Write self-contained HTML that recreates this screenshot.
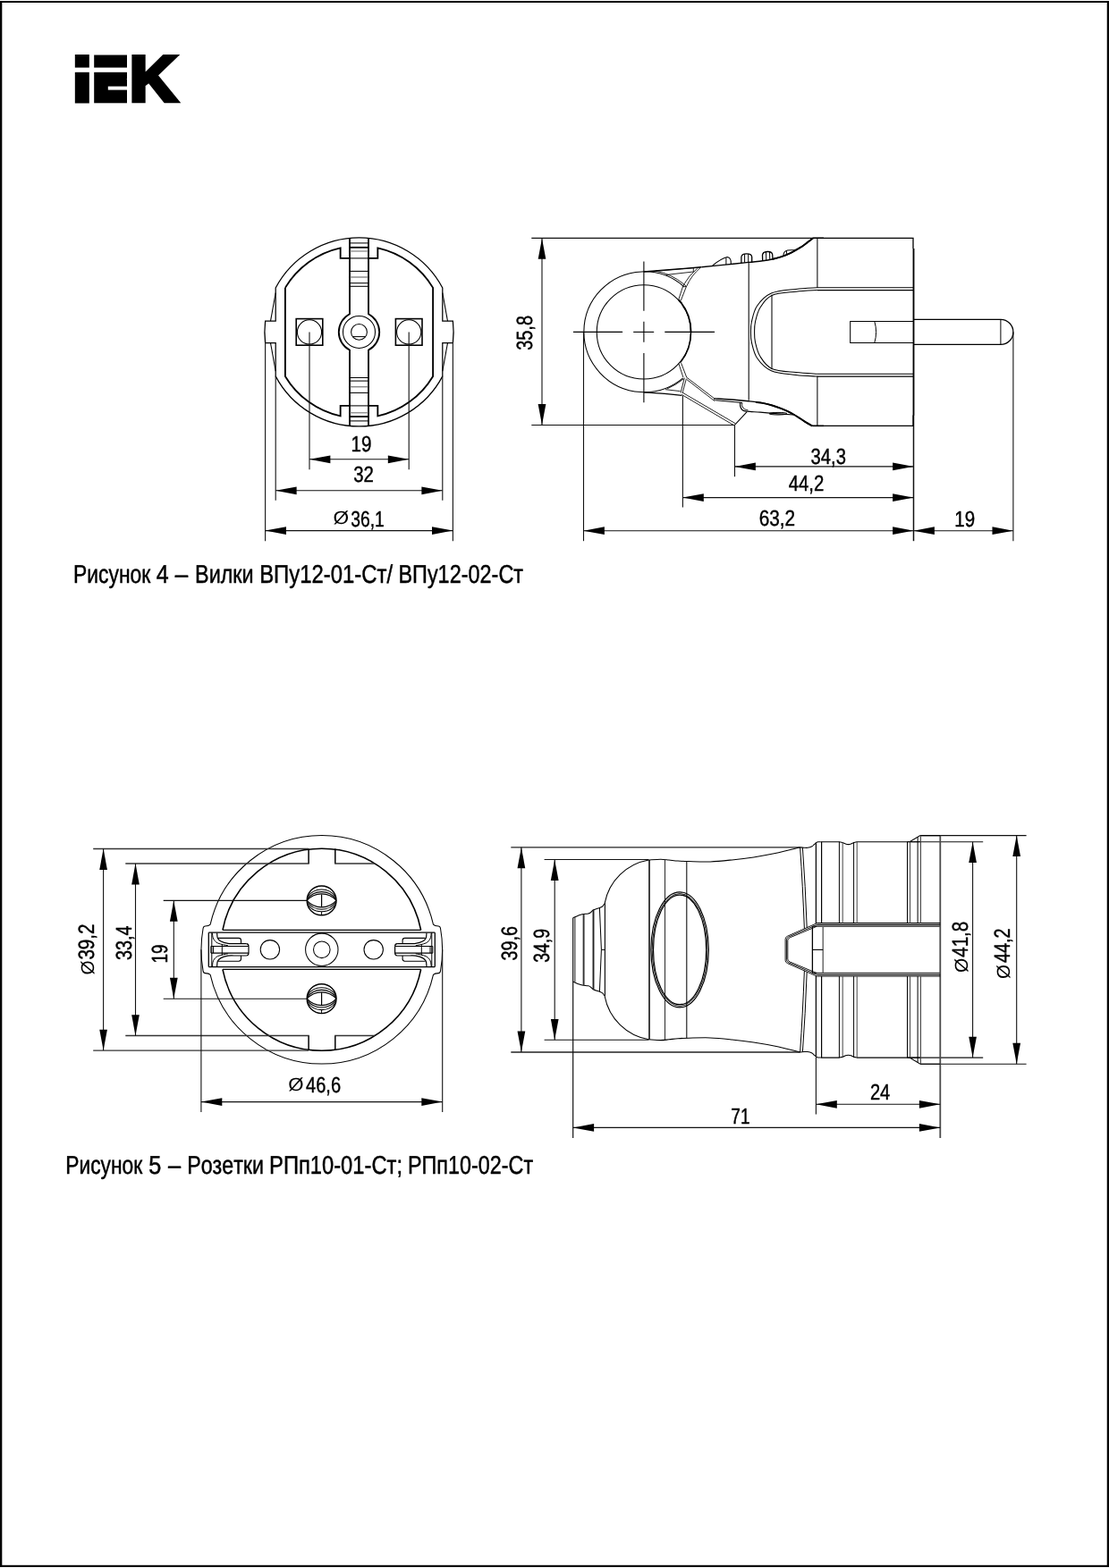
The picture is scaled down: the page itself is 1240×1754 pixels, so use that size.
<!DOCTYPE html>
<html lang="ru">
<head>
<meta charset="utf-8">
<title>IEK</title>
<style>
html,body{margin:0;padding:0;background:#fff;}
body{width:1240px;height:1754px;overflow:hidden;}
svg{display:block;will-change:transform;}
text{font-family:"Liberation Sans",sans-serif;fill:#000;text-rendering:geometricPrecision;font-kerning:none;}
</style>
</head>
<body>
<svg width="1240" height="1754" viewBox="0 0 1240 1754">
<rect x="0" y="0" width="1240" height="1754" fill="#fff"/>
<rect x="0" y="1" width="1240" height="2" fill="#000"/>
<rect x="0" y="1" width="2.3" height="1751.9" fill="#000"/>
<rect x="1237.75" y="1" width="2.25" height="1752" fill="#000"/>
<rect x="0" y="1750.8" width="1240" height="2.15" fill="#000"/>
<text font-weight="bold" stroke="#000" stroke-linejoin="miter"><tspan x="79.82" y="113.81" font-size="74.725" stroke-width="2.989" stroke-miterlimit="10" textLength="24.157" lengthAdjust="spacingAndGlyphs">I</tspan><tspan x="111.19" y="104.9" font-size="47.387" stroke-width="21.798" stroke-miterlimit="10" textLength="24.890" lengthAdjust="spacingAndGlyphs">E</tspan><tspan x="144.78" y="113.02" font-size="72.437" stroke-width="4.564" stroke-miterlimit="4" textLength="53.376" lengthAdjust="spacingAndGlyphs">K</tspan></text>
<rect x="82" y="75.6" width="61.5" height="5.2" fill="#fff"/>
<rect x="120.8" y="96.6" width="22.7" height="4.0" fill="#fff"/>
<rect x="142.0" y="59" width="3.4" height="58" fill="#fff"/>
<rect x="104" y="115.3" width="40" height="2" fill="#fff"/>
<text y="652.3" font-size="28.8" stroke="#000" stroke-width="0.5" stroke-linejoin="round"><tspan x="82.02" textLength="86.26" lengthAdjust="spacingAndGlyphs">Рисунок</tspan> <tspan x="174.63" textLength="13.91" lengthAdjust="spacingAndGlyphs">4</tspan> <tspan x="195.8" textLength="14.41" lengthAdjust="spacingAndGlyphs">–</tspan> <tspan x="218.08" textLength="65.54" lengthAdjust="spacingAndGlyphs">Вилки</tspan> <tspan x="290.14" textLength="149.06" lengthAdjust="spacingAndGlyphs">ВПу12-01-Ст/</tspan> <tspan x="445.38" textLength="139.73" lengthAdjust="spacingAndGlyphs">ВПу12-02-Ст</tspan></text>
<text y="1313.2" font-size="28.8" stroke="#000" stroke-width="0.5" stroke-linejoin="round"><tspan x="73.23" textLength="86.06" lengthAdjust="spacingAndGlyphs">Рисунок</tspan> <tspan x="166.19" textLength="14.08" lengthAdjust="spacingAndGlyphs">5</tspan> <tspan x="187.9" textLength="14.11" lengthAdjust="spacingAndGlyphs">–</tspan> <tspan x="209.19" textLength="85.82" lengthAdjust="spacingAndGlyphs">Розетки</tspan> <tspan x="301.05" textLength="148.98" lengthAdjust="spacingAndGlyphs">РПп10-01-Ст;</tspan> <tspan x="455.98" textLength="140.12" lengthAdjust="spacingAndGlyphs">РПп10-02-Ст</tspan></text>
<path d="M308.2 321.94 A105.6 105.6 0 0 1 494.8 321.94 L494.8 359.2 L506.39 359.2 A105.6 105.6 0 0 1 506.39 383.6 L494.8 383.6 L494.8 420.86 A105.6 105.6 0 0 1 308.2 420.86 L308.2 383.6 L296.61 383.6 A105.6 105.6 0 0 1 296.61 359.2 L308.2 359.2 Z" fill="none" stroke="#000" stroke-width="1.25" />
<line x1="308.2" y1="327.6" x2="302.5" y2="359.2" stroke="#000" stroke-width="1.05" />
<line x1="308.2" y1="415.2" x2="302.5" y2="383.6" stroke="#000" stroke-width="1.05" />
<line x1="494.8" y1="327.6" x2="500.5" y2="359.2" stroke="#000" stroke-width="1.05" />
<line x1="494.8" y1="415.2" x2="500.5" y2="383.6" stroke="#000" stroke-width="1.05" />
<path d="M318.9 321.89 A96.3 96.3 0 0 1 380.65 277.38 L380.65 288.9 L391 288.9 M412 288.9 L422.35 288.9 L422.35 277.38 A96.3 96.3 0 0 1 484.1 321.89 L484.1 420.91 A96.3 96.3 0 0 1 422.35 465.42 L422.35 453.9 L412 453.9 M391 453.9 L380.65 453.9 L380.65 465.42 A96.3 96.3 0 0 1 318.9 420.91 L318.9 321.89" fill="none" stroke="#000" stroke-width="1.85" stroke-linejoin="miter"/>
<path d="M391 266.32 L391 351.27 A22.7 22.7 0 0 0 391 391.53 L391 476.48" fill="none" stroke="#000" stroke-width="1.85" stroke-linejoin="round"/>
<path d="M412 266.32 L412 351.27 A22.7 22.7 0 0 1 412 391.53 L412 476.48" fill="none" stroke="#000" stroke-width="1.85" stroke-linejoin="round"/>
<circle cx="401.5" cy="371.4" r="18" fill="none" stroke="#000" stroke-width="1.05"/>
<circle cx="401.5" cy="371.4" r="8.9" fill="none" stroke="#000" stroke-width="1.05"/>
<line x1="394.3" y1="376.6" x2="408.7" y2="376.6" stroke="#000" stroke-width="1.05" />
<line x1="391" y1="271.9" x2="412" y2="271.9" stroke="#000" stroke-width="1.05" />
<line x1="391" y1="470.9" x2="412" y2="470.9" stroke="#000" stroke-width="1.05" />
<line x1="391" y1="276.8" x2="412" y2="276.8" stroke="#000" stroke-width="1.85" />
<line x1="391" y1="466" x2="412" y2="466" stroke="#000" stroke-width="1.85" />
<line x1="391" y1="281" x2="412" y2="281" stroke="#666" stroke-width="1.0" />
<line x1="391" y1="461.8" x2="412" y2="461.8" stroke="#666" stroke-width="1.0" />
<line x1="391" y1="288.9" x2="412" y2="288.9" stroke="#000" stroke-width="1.05" />
<line x1="391" y1="453.9" x2="412" y2="453.9" stroke="#000" stroke-width="1.05" />
<line x1="391" y1="303.4" x2="412" y2="303.4" stroke="#000" stroke-width="1.05" />
<line x1="391" y1="439.4" x2="412" y2="439.4" stroke="#000" stroke-width="1.05" />
<line x1="391" y1="310" x2="412" y2="310" stroke="#555" stroke-width="1.0" />
<line x1="391" y1="432.8" x2="412" y2="432.8" stroke="#555" stroke-width="1.0" />
<line x1="391" y1="316.7" x2="412" y2="316.7" stroke="#000" stroke-width="1.05" />
<line x1="391" y1="426.1" x2="412" y2="426.1" stroke="#000" stroke-width="1.05" />
<line x1="391" y1="320.3" x2="412" y2="320.3" stroke="#000" stroke-width="1.05" />
<line x1="391" y1="422.5" x2="412" y2="422.5" stroke="#000" stroke-width="1.05" />
<rect x="331.2" y="356.6" width="29.6" height="29.6" fill="none" stroke="#000" stroke-width="1.6"/>
<circle cx="346" cy="371.4" r="13.6" fill="none" stroke="#000" stroke-width="1.05"/>
<line x1="346" y1="371.4" x2="346" y2="525.3" stroke="#111" stroke-width="1.1" />
<rect x="442.4" y="356.6" width="29.6" height="29.6" fill="none" stroke="#000" stroke-width="1.6"/>
<circle cx="457.2" cy="371.4" r="13.6" fill="none" stroke="#000" stroke-width="1.05"/>
<line x1="457.2" y1="371.4" x2="457.2" y2="525.3" stroke="#111" stroke-width="1.1" />
<line x1="308.2" y1="420.86" x2="308.2" y2="559.7" stroke="#111" stroke-width="1.1" />
<line x1="494.8" y1="420.86" x2="494.8" y2="559.7" stroke="#111" stroke-width="1.1" />
<line x1="296.61" y1="383.6" x2="296.61" y2="605.2" stroke="#111" stroke-width="1.1" />
<line x1="506.39" y1="383.6" x2="506.39" y2="605.2" stroke="#111" stroke-width="1.1" />
<line x1="346" y1="513.8" x2="457.2" y2="513.8" stroke="#111" stroke-width="1.1" />
<polygon points="346,513.8 369.4,509.45 369.4,518.15" fill="#000"/>
<polygon points="457.2,513.8 433.8,518.15 433.8,509.45" fill="#000"/>
<line x1="308.2" y1="548.8" x2="494.8" y2="548.8" stroke="#111" stroke-width="1.1" />
<polygon points="308.2,548.8 331.6,544.45 331.6,553.15" fill="#000"/>
<polygon points="494.8,548.8 471.4,553.15 471.4,544.45" fill="#000"/>
<line x1="296.61" y1="593.6" x2="506.39" y2="593.6" stroke="#111" stroke-width="1.1" />
<polygon points="296.61,593.6 320.01,589.25 320.01,597.95" fill="#000"/>
<polygon points="506.39,593.6 482.99,597.95 482.99,589.25" fill="#000"/>
<text x="392.43" y="504.8" font-size="24.9" textLength="22.95" lengthAdjust="spacingAndGlyphs" stroke="#000" stroke-width="0.45">19</text>
<text x="395.22" y="539" font-size="24.9" textLength="22.7" lengthAdjust="spacingAndGlyphs" stroke="#000" stroke-width="0.45">32</text>
<text font-size="24.9" stroke="#000" stroke-width="0.45"><tspan x="372.41" y="586.4" font-size="20.6" textLength="17.65" lengthAdjust="spacingAndGlyphs" stroke-width="0">Ø</tspan><tspan x="392.26" y="588.7" textLength="37.58" lengthAdjust="spacingAndGlyphs">36,1</tspan></text>
<path d="M764.5 320.4 A67.4 67.4 0 1 0 763.7 422.8" fill="none" stroke="#000" stroke-width="1.05" />
<circle cx="719.9" cy="371.4" r="52.6" fill="none" stroke="#000" stroke-width="1.05"/>
<line x1="641" y1="371.4" x2="696.1" y2="371.4" stroke="#000" stroke-width="1.1" />
<line x1="708.2" y1="371.4" x2="731.2" y2="371.4" stroke="#000" stroke-width="1.1" />
<line x1="743.3" y1="371.4" x2="799" y2="371.4" stroke="#000" stroke-width="1.1" />
<line x1="719.9" y1="292.4" x2="719.9" y2="347.7" stroke="#000" stroke-width="1.1" />
<line x1="719.9" y1="359.8" x2="719.9" y2="382.8" stroke="#000" stroke-width="1.1" />
<line x1="719.9" y1="394.9" x2="719.9" y2="450.2" stroke="#000" stroke-width="1.1" />
<line x1="594.3" y1="266.4" x2="908.6" y2="266.4" stroke="#111" stroke-width="1.1" />
<line x1="594.3" y1="475.5" x2="821.5" y2="475.5" stroke="#111" stroke-width="1.1" />
<line x1="606" y1="266.4" x2="606" y2="475.5" stroke="#111" stroke-width="1.1" />
<polygon points="606,266.4 610.35,289.8 601.65,289.8" fill="#000"/>
<polygon points="606,475.5 601.65,452.1 610.35,452.1" fill="#000"/>
<line x1="652.5" y1="371.4" x2="652.5" y2="605.2" stroke="#111" stroke-width="1.1" />
<line x1="763.4" y1="442.4" x2="763.4" y2="567.6" stroke="#111" stroke-width="1.1" />
<line x1="821.5" y1="475.5" x2="821.5" y2="533.2" stroke="#111" stroke-width="1.1" />
<line x1="1021.5" y1="464" x2="1021.5" y2="605.2" stroke="#111" stroke-width="1.5" />
<line x1="1132.9" y1="371.4" x2="1132.9" y2="605.2" stroke="#111" stroke-width="1.1" />
<line x1="821.5" y1="521.9" x2="1021.5" y2="521.9" stroke="#111" stroke-width="1.1" />
<polygon points="821.5,521.9 844.9,517.55 844.9,526.25" fill="#000"/>
<polygon points="1021.5,521.9 998.1,526.25 998.1,517.55" fill="#000"/>
<line x1="763.4" y1="556.6" x2="1021.5" y2="556.6" stroke="#111" stroke-width="1.1" />
<polygon points="763.4,556.6 786.8,552.25 786.8,560.95" fill="#000"/>
<polygon points="1021.5,556.6 998.1,560.95 998.1,552.25" fill="#000"/>
<line x1="652.5" y1="593.7" x2="1021.5" y2="593.7" stroke="#111" stroke-width="1.1" />
<polygon points="652.5,593.7 675.9,589.35 675.9,598.05" fill="#000"/>
<polygon points="1021.5,593.7 998.1,598.05 998.1,589.35" fill="#000"/>
<line x1="1021.5" y1="593.7" x2="1132.9" y2="593.7" stroke="#111" stroke-width="1.1" />
<polygon points="1021.5,593.7 1044.9,589.35 1044.9,598.05" fill="#000"/>
<polygon points="1132.9,593.7 1109.5,598.05 1109.5,589.35" fill="#000"/>
<text x="906.53" y="518.8" font-size="24.9" textLength="39.36" lengthAdjust="spacingAndGlyphs" stroke="#000" stroke-width="0.45">34,3</text>
<text x="881.63" y="548.6" font-size="24.9" textLength="39.69" lengthAdjust="spacingAndGlyphs" stroke="#000" stroke-width="0.45">44,2</text>
<text x="848.64" y="588.3" font-size="24.9" textLength="40.5" lengthAdjust="spacingAndGlyphs" stroke="#000" stroke-width="0.45">63,2</text>
<text x="1067.34" y="588.9" font-size="24.9" textLength="22.84" lengthAdjust="spacingAndGlyphs" stroke="#000" stroke-width="0.45">19</text>
<text transform="translate(595.2 391) rotate(-90)" x="-0.76" y="0" font-size="24.9" textLength="38.72" lengthAdjust="spacingAndGlyphs" stroke="#000" stroke-width="0.45">35,8</text>
<path d="M908.6 266.4 L1021 266.4 L1021 278" fill="none" stroke="#000" stroke-width="1.3" />
<line x1="908.6" y1="266.3" x2="921" y2="266.3" stroke="#000" stroke-width="1.5" />
<line x1="1021.5" y1="278" x2="1021.5" y2="464.5" stroke="#000" stroke-width="1.85" />
<path d="M1021 464.5 L1021 476.3 L908.6 476.3" fill="none" stroke="#000" stroke-width="1.3" />
<line x1="908.4" y1="476.4" x2="921" y2="476.4" stroke="#000" stroke-width="1.5" />
<line x1="913.9" y1="266.4" x2="913.9" y2="322" stroke="#000" stroke-width="1.05" />
<line x1="913.9" y1="420.8" x2="913.9" y2="476.3" stroke="#000" stroke-width="1.05" />
<line x1="913.9" y1="321.7" x2="1021" y2="321.7" stroke="#000" stroke-width="1.05" />
<line x1="913.9" y1="324.6" x2="1021" y2="324.6" stroke="#000" stroke-width="1.05" />
<line x1="913.9" y1="418.2" x2="1021" y2="418.2" stroke="#000" stroke-width="1.05" />
<line x1="913.9" y1="421.1" x2="1021" y2="421.1" stroke="#000" stroke-width="1.05" />
<path d="M913.9 321.7 C909.92 321.98 898.58 322.33 890 323.4 C881.42 324.47 869.65 324.95 862.4 328.1 C855.15 331.25 850.17 336.98 846.5 342.3 C842.83 347.62 841.57 355.15 840.4 360 C839.23 364.85 839.5 367.6 839.5 371.4 C839.5 375.2 839.23 377.95 840.4 382.8 C841.57 387.65 842.83 395.18 846.5 400.5 C850.17 405.82 855.15 411.55 862.4 414.7 C869.65 417.85 881.42 418.33 890 419.4 C898.58 420.47 909.92 420.82 913.9 421.1" fill="none" stroke="#000" stroke-width="1.05" />
<path d="M913.9 324.6 C909.92 324.87 898.48 325.23 890 326.2 C881.52 327.17 869.67 327.43 863 330.4 C856.33 333.37 853.08 339.07 850 344 C846.92 348.93 845.57 355.43 844.5 360 C843.43 364.57 843.6 367.6 843.6 371.4 C843.6 375.2 843.43 378.23 844.5 382.8 C845.57 387.37 846.92 393.87 850 398.8 C853.08 403.73 856.33 409.43 863 412.4 C869.67 415.37 881.52 415.63 890 416.6 C898.48 417.57 909.92 417.93 913.9 418.2" fill="none" stroke="#000" stroke-width="1.05" />
<line x1="863" y1="329.8" x2="863" y2="413" stroke="#000" stroke-width="1.05" />
<line x1="837.2" y1="293.6" x2="837.2" y2="447.8" stroke="#000" stroke-width="1.05" />
<path d="M1021 359.4 L950.7 359.4 L950.7 383.5 L1021 383.5" fill="none" stroke="#000" stroke-width="1.05" />
<path d="M977.8 359.4 A42 42 0 0 1 977.8 383.5" fill="none" stroke="#000" stroke-width="1.0" />
<path d="M1021.5 357.4 L1118.9 357.4 A14 14 0 0 1 1118.9 385.4 L1021.5 385.4" fill="none" stroke="#000" stroke-width="1.3" />
<line x1="1118.9" y1="357.4" x2="1118.9" y2="385.4" stroke="#000" stroke-width="1.0" />
<line x1="719.9" y1="304" x2="784.4" y2="298.7" stroke="#000" stroke-width="1.3" />
<path d="M784.4 298.7 C788.83 298.27 802.2 296.98 811 296.1 C819.8 295.22 830.22 294.12 837.2 293.4 C844.18 292.68 848.53 292.37 852.9 291.8 C857.27 291.23 859.9 290.78 863.4 290 C866.9 289.22 870.42 288.3 873.9 287.1 C877.38 285.9 880.82 284.5 884.3 282.8 C887.78 281.1 892 278.62 894.8 276.9 C897.6 275.18 898.73 274.25 901.1 272.5 C903.47 270.75 907.68 267.42 909 266.4" fill="none" stroke="#000" stroke-width="1.4" />
<path d="M863.4 290 C865.15 289.52 870.42 288.3 873.9 287.1 C877.38 285.9 880.82 284.5 884.3 282.8 C887.78 281.1 892 278.62 894.8 276.9 C897.6 275.18 898.73 274.25 901.1 272.5 C903.47 270.75 907.68 267.42 909 266.4" fill="none" stroke="#000" stroke-width="1.9" />
<path d="M796.8 297 Q806 289.5 813.2 287.6 Q817.8 288.2 817.3 295.4" fill="none" stroke="#000" stroke-width="1.05" />
<line x1="811.9" y1="288.2" x2="811.9" y2="296" stroke="#000" stroke-width="1.0" />
<path d="M828.9 294.3 L828.9 287.5 Q829.2 283.8 834.8 283.8 Q840.6 283.8 840.7 287.5 L840.7 293.2" fill="none" stroke="#000" stroke-width="1.3" />
<line x1="832.6" y1="284.2" x2="832.6" y2="293.8" stroke="#000" stroke-width="1.0" />
<line x1="836.7" y1="284.2" x2="836.7" y2="293.5" stroke="#000" stroke-width="1.0" />
<path d="M852.7 291.8 L852.5 285.4 Q852.7 281.9 857.9 281.5 Q863.3 281.2 863.7 284.8 L864 289.8" fill="none" stroke="#000" stroke-width="1.3" />
<line x1="856.5" y1="282" x2="856.8" y2="291.2" stroke="#000" stroke-width="1.0" />
<line x1="860.5" y1="281.6" x2="860.8" y2="290.4" stroke="#000" stroke-width="1.0" />
<path d="M876 286.3 Q875.6 281.2 880.5 279.9 L888.8 279.4 L891.5 278.8" fill="none" stroke="#000" stroke-width="1.05" />
<line x1="879.3" y1="280.6" x2="879.8" y2="285" stroke="#000" stroke-width="1.0" />
<line x1="727.9" y1="303.7" x2="783.4" y2="299.2" stroke="#000" stroke-width="0.85" />
<line x1="746" y1="307.3" x2="775.3" y2="304" stroke="#000" stroke-width="0.85" />
<line x1="775.3" y1="299.8" x2="775.3" y2="304" stroke="#000" stroke-width="0.85" />
<path d="M733 303.05 A69.6 69.6 0 0 1 764.8 318.0" fill="none" stroke="#000" stroke-width="0.85" />
<line x1="745.3" y1="307" x2="745.3" y2="309" stroke="#000" stroke-width="0.85" />
<path d="M783.6 299.0 Q773 308 767.5 320.5" fill="none" stroke="#000" stroke-width="0.85" />
<path d="M779.7 300.2 Q770 308.5 764.8 318.0" fill="none" stroke="#000" stroke-width="0.85" />
<path d="M763.4 320.8 L767.4 320.5 L764.8 318.0 Z" fill="none" stroke="#000" stroke-width="0.85" />
<line x1="763.4" y1="320.8" x2="758.7" y2="335.4" stroke="#000" stroke-width="0.85" />
<line x1="767.4" y1="320.5" x2="761.3" y2="336.2" stroke="#000" stroke-width="0.85" />
<path d="M758.9 335.4 A52.6 52.6 0 0 1 772.5 371.4" fill="none" stroke="#000" stroke-width="1.8" />
<path d="M772.5 371.4 A52.6 52.6 0 0 1 760.5 405.6" fill="none" stroke="#000" stroke-width="1.5" />
<line x1="759" y1="407" x2="763.9" y2="422.1" stroke="#000" stroke-width="0.85" />
<line x1="761.6" y1="406.1" x2="767.8" y2="422.3" stroke="#000" stroke-width="0.85" />
<path d="M719.9 438.8 Q745 440.2 762.4 442.4" fill="none" stroke="#000" stroke-width="1.3" />
<line x1="744" y1="435.7" x2="760.5" y2="437.6" stroke="#000" stroke-width="0.85" />
<path d="M746 434.9 Q756 430.6 764.5 423.8" fill="none" stroke="#000" stroke-width="0.85" />
<line x1="765.3" y1="422.6" x2="761" y2="439.5" stroke="#000" stroke-width="0.85" />
<line x1="767.4" y1="423.6" x2="763" y2="440" stroke="#000" stroke-width="0.85" />
<line x1="767.8" y1="422.2" x2="798.5" y2="445.6" stroke="#000" stroke-width="0.85" />
<line x1="768" y1="424.6" x2="799" y2="448.6" stroke="#000" stroke-width="0.85" />
<line x1="763.2" y1="439.2" x2="822.2" y2="473.7" stroke="#000" stroke-width="0.85" />
<line x1="762.2" y1="441.4" x2="820" y2="475.4" stroke="#000" stroke-width="0.85" />
<line x1="821.5" y1="475.3" x2="835.2" y2="460.6" stroke="#000" stroke-width="1.05" />
<line x1="798.3" y1="445.8" x2="799.6" y2="448.4" stroke="#000" stroke-width="0.85" />
<path d="M798.4 445.6 C802.23 445.87 814.93 446.67 821.4 447.2 C827.87 447.73 831.95 448.18 837.2 448.8 C842.45 449.42 848.53 450.12 852.9 450.9 C857.27 451.68 859.9 452.45 863.4 453.5 C866.9 454.55 870.42 455.8 873.9 457.2 C877.38 458.6 880.82 460.07 884.3 461.9 C887.78 463.73 892 466.45 894.8 468.2 C897.6 469.95 898.83 471.02 901.1 472.4 C903.37 473.78 907.18 475.82 908.4 476.5" fill="none" stroke="#000" stroke-width="1.4" />
<path d="M845 449.8 C846.32 449.98 849.83 450.28 852.9 450.9 C855.97 451.52 859.9 452.45 863.4 453.5 C866.9 454.55 870.42 455.8 873.9 457.2 C877.38 458.6 880.82 460.07 884.3 461.9 C887.78 463.73 892 466.45 894.8 468.2 C897.6 469.95 898.83 471.02 901.1 472.4 C903.37 473.78 907.18 475.82 908.4 476.5" fill="none" stroke="#000" stroke-width="1.9" />
<line x1="800.2" y1="447.8" x2="830" y2="450.4" stroke="#000" stroke-width="1.05" />
<path d="M827.6 450 C827.65 450.83 827.42 453.5 827.9 455 C828.38 456.5 829.23 458.13 830.5 459 C831.77 459.87 832.25 459.83 835.5 460.2 C838.75 460.57 844.25 460.77 850 461.2 C855.75 461.63 863.83 462.33 870 462.8 C876.17 463.27 884.17 463.8 887 464" fill="none" stroke="#000" stroke-width="1.2" />
<path d="M829.6 450.3 C829.67 451.02 829.53 453.38 830 454.6 C830.47 455.82 831.33 456.9 832.4 457.6 C833.47 458.3 835.73 458.6 836.4 458.8" fill="none" stroke="#000" stroke-width="1.0" />
<ellipse cx="870" cy="462.7" rx="10" ry="1.3" fill="none" stroke="#000" stroke-width="1.0"/>
<path d="M235.13 1034.2 A127.8 127.8 0 0 1 484.47 1034.2 Q485.97 1036 490.11 1036 Q492.11 1036 492.51 1038.5 A134.9 134.9 0 0 1 492.51 1086.1 Q492.11 1088.6 490.11 1088.6 Q485.97 1088.6 484.47 1090.4 A127.8 127.8 0 0 1 235.13 1090.4 Q233.63 1088.6 229.49 1088.6 Q227.49 1088.6 227.09 1086.1 A134.9 134.9 0 0 1 227.09 1038.5 Q227.49 1036 229.49 1036 Q233.63 1036 235.13 1034.2 Z" fill="none" stroke="#000" stroke-width="1.05" />
<path d="M248.96 1040.3 A113.0 113.0 0 0 1 470.64 1040.3" fill="none" stroke="#000" stroke-width="1.6" />
<path d="M248.96 1084.3 A113.0 113.0 0 0 0 470.64 1084.3" fill="none" stroke="#000" stroke-width="1.6" />
<line x1="248.96" y1="1040.3" x2="470.64" y2="1040.3" stroke="#000" stroke-width="1.15" />
<line x1="248.96" y1="1084.3" x2="470.64" y2="1084.3" stroke="#000" stroke-width="1.15" />
<line x1="233.3" y1="1043.2" x2="486.3" y2="1043.2" stroke="#000" stroke-width="1.25" />
<line x1="233.3" y1="1081.5" x2="486.3" y2="1081.5" stroke="#000" stroke-width="1.25" />
<circle cx="359.8" cy="1062.3" r="18.2" fill="none" stroke="#000" stroke-width="1.05"/>
<circle cx="359.8" cy="1062.3" r="9.3" fill="none" stroke="#000" stroke-width="1.05"/>
<circle cx="301.9" cy="1062.3" r="10.7" fill="none" stroke="#000" stroke-width="1.05"/>
<circle cx="417.7" cy="1062.3" r="10.7" fill="none" stroke="#000" stroke-width="1.05"/>
<line x1="233.3" y1="1043.2" x2="233.3" y2="1081.5" stroke="#000" stroke-width="1.3" />
<line x1="236.8" y1="1043.2" x2="236.8" y2="1081.5" stroke="#000" stroke-width="1.0" />
<path d="M242.6 1081 C242.73 1080.02 242.67 1076.67 243.4 1075.1 C244.13 1073.53 245.08 1072.58 247 1071.6 C248.92 1070.62 252.4 1069.63 254.9 1069.2 C257.4 1068.77 258.57 1069.03 262 1069 C265.43 1068.97 273.25 1069 275.5 1069" fill="none" stroke="#000" stroke-width="1.2" />
<path d="M237.4 1081 C237.6 1079.93 237.58 1076.5 238.6 1074.6 C239.62 1072.7 240.78 1070.9 243.5 1069.6 C246.22 1068.3 253 1067.27 254.9 1066.8" fill="none" stroke="#000" stroke-width="1.0" />
<path d="M244 1075.2 L267 1075.2 Q269.5 1075.2 269.5 1072.6 L269.5 1069" fill="none" stroke="#000" stroke-width="1.1" />
<path d="M275.5 1069 Q278 1068.8 278 1066.1" fill="none" stroke="#000" stroke-width="1.2" />
<line x1="235.8" y1="1066.1" x2="278" y2="1066.1" stroke="#000" stroke-width="1.2" />
<path d="M242.6 1043.6 C242.73 1044.58 242.67 1047.93 243.4 1049.5 C244.13 1051.07 245.08 1052.02 247 1053 C248.92 1053.98 252.4 1054.97 254.9 1055.4 C257.4 1055.83 258.57 1055.57 262 1055.6 C265.43 1055.63 273.25 1055.6 275.5 1055.6" fill="none" stroke="#000" stroke-width="1.2" />
<path d="M237.4 1043.6 C237.6 1044.67 237.58 1048.1 238.6 1050 C239.62 1051.9 240.78 1053.7 243.5 1055 C246.22 1056.3 253 1057.33 254.9 1057.8" fill="none" stroke="#000" stroke-width="1.0" />
<path d="M244 1049.4 L267 1049.4 Q269.5 1049.4 269.5 1052 L269.5 1055.6" fill="none" stroke="#000" stroke-width="1.1" />
<path d="M275.5 1055.6 Q278 1055.8 278 1058.5" fill="none" stroke="#000" stroke-width="1.2" />
<line x1="235.8" y1="1058.5" x2="278" y2="1058.5" stroke="#000" stroke-width="1.2" />
<line x1="278" y1="1058.5" x2="278" y2="1066.1" stroke="#000" stroke-width="1.2" />
<line x1="235.8" y1="1058.5" x2="235.8" y2="1066.1" stroke="#000" stroke-width="1.0" />
<line x1="238.6" y1="1058.5" x2="238.6" y2="1066.1" stroke="#000" stroke-width="1.0" />
<line x1="248.3" y1="1056" x2="248.3" y2="1068.6" stroke="#000" stroke-width="1.0" />
<line x1="486.3" y1="1043.2" x2="486.3" y2="1081.5" stroke="#000" stroke-width="1.3" />
<line x1="482.8" y1="1043.2" x2="482.8" y2="1081.5" stroke="#000" stroke-width="1.0" />
<path d="M477 1081 C476.87 1080.02 476.93 1076.67 476.2 1075.1 C475.47 1073.53 474.52 1072.58 472.6 1071.6 C470.68 1070.62 467.2 1069.63 464.7 1069.2 C462.2 1068.77 461.03 1069.03 457.6 1069 C454.17 1068.97 446.35 1069 444.1 1069" fill="none" stroke="#000" stroke-width="1.2" />
<path d="M482.2 1081 C482 1079.93 482.02 1076.5 481 1074.6 C479.98 1072.7 478.82 1070.9 476.1 1069.6 C473.38 1068.3 466.6 1067.27 464.7 1066.8" fill="none" stroke="#000" stroke-width="1.0" />
<path d="M475.6 1075.2 L452.6 1075.2 Q450.1 1075.2 450.1 1072.6 L450.1 1069" fill="none" stroke="#000" stroke-width="1.1" />
<path d="M444.1 1069 Q441.6 1068.8 441.6 1066.1" fill="none" stroke="#000" stroke-width="1.2" />
<line x1="483.8" y1="1066.1" x2="441.6" y2="1066.1" stroke="#000" stroke-width="1.2" />
<path d="M477 1043.6 C476.87 1044.58 476.93 1047.93 476.2 1049.5 C475.47 1051.07 474.52 1052.02 472.6 1053 C470.68 1053.98 467.2 1054.97 464.7 1055.4 C462.2 1055.83 461.03 1055.57 457.6 1055.6 C454.17 1055.63 446.35 1055.6 444.1 1055.6" fill="none" stroke="#000" stroke-width="1.2" />
<path d="M482.2 1043.6 C482 1044.67 482.02 1048.1 481 1050 C479.98 1051.9 478.82 1053.7 476.1 1055 C473.38 1056.3 466.6 1057.33 464.7 1057.8" fill="none" stroke="#000" stroke-width="1.0" />
<path d="M475.6 1049.4 L452.6 1049.4 Q450.1 1049.4 450.1 1052 L450.1 1055.6" fill="none" stroke="#000" stroke-width="1.1" />
<path d="M444.1 1055.6 Q441.6 1055.8 441.6 1058.5" fill="none" stroke="#000" stroke-width="1.2" />
<line x1="483.8" y1="1058.5" x2="441.6" y2="1058.5" stroke="#000" stroke-width="1.2" />
<line x1="441.6" y1="1058.5" x2="441.6" y2="1066.1" stroke="#000" stroke-width="1.2" />
<line x1="483.8" y1="1058.5" x2="483.8" y2="1066.1" stroke="#000" stroke-width="1.0" />
<line x1="481" y1="1058.5" x2="481" y2="1066.1" stroke="#000" stroke-width="1.0" />
<line x1="471.3" y1="1056" x2="471.3" y2="1068.6" stroke="#000" stroke-width="1.0" />
<circle cx="359.6" cy="1007.4" r="16.4" fill="none" stroke="#000" stroke-width="1.4"/>
<path d="M343.2 1007.4 A21.87 21.87 0 0 1 376 1007.4" fill="none" stroke="#000" stroke-width="1.25" />
<path d="M343.2 1007.4 A21.87 21.87 0 0 0 376 1007.4" fill="none" stroke="#000" stroke-width="1.25" />
<path d="M343.26 1006 A20.09 20.09 0 0 1 375.94 1006" fill="none" stroke="#000" stroke-width="1.1" />
<path d="M343.26 1008.8 A20.09 20.09 0 0 0 375.94 1008.8" fill="none" stroke="#000" stroke-width="1.1" />
<path d="M343.7 1003.4 A19.26 19.26 0 0 1 375.5 1003.4" fill="none" stroke="#000" stroke-width="1.1" />
<path d="M343.7 1011.4 A19.26 19.26 0 0 0 375.5 1011.4" fill="none" stroke="#000" stroke-width="1.1" />
<line x1="359.6" y1="1000.4" x2="359.6" y2="1014.4" stroke="#000" stroke-width="1.2" />
<line x1="359.6" y1="1020" x2="359.6" y2="1023.4" stroke="#000" stroke-width="1.0" />
<circle cx="359.6" cy="1117.2" r="16.4" fill="none" stroke="#000" stroke-width="1.4"/>
<path d="M343.2 1117.2 A21.87 21.87 0 0 1 376 1117.2" fill="none" stroke="#000" stroke-width="1.25" />
<path d="M343.2 1117.2 A21.87 21.87 0 0 0 376 1117.2" fill="none" stroke="#000" stroke-width="1.25" />
<path d="M343.26 1115.8 A20.09 20.09 0 0 1 375.94 1115.8" fill="none" stroke="#000" stroke-width="1.1" />
<path d="M343.26 1118.6 A20.09 20.09 0 0 0 375.94 1118.6" fill="none" stroke="#000" stroke-width="1.1" />
<path d="M343.7 1113.2 A19.26 19.26 0 0 1 375.5 1113.2" fill="none" stroke="#000" stroke-width="1.1" />
<path d="M343.7 1121.2 A19.26 19.26 0 0 0 375.5 1121.2" fill="none" stroke="#000" stroke-width="1.1" />
<line x1="359.6" y1="1110.2" x2="359.6" y2="1124.2" stroke="#000" stroke-width="1.2" />
<line x1="359.6" y1="1129.8" x2="359.6" y2="1133.2" stroke="#000" stroke-width="1.0" />
<line x1="345.1" y1="949.5" x2="345.1" y2="966" stroke="#000" stroke-width="1.5" />
<line x1="374.8" y1="949.5" x2="374.8" y2="966" stroke="#000" stroke-width="1.5" />
<line x1="140.3" y1="966" x2="345.8" y2="966" stroke="#333" stroke-width="1.5" />
<line x1="374.1" y1="966" x2="418.92" y2="966" stroke="#333" stroke-width="1.5" />
<line x1="104.2" y1="949.5" x2="345.1" y2="949.5" stroke="#333" stroke-width="1.3" />
<line x1="345.1" y1="1175.1" x2="345.1" y2="1158.6" stroke="#000" stroke-width="1.5" />
<line x1="374.8" y1="1175.1" x2="374.8" y2="1158.6" stroke="#000" stroke-width="1.5" />
<line x1="140.3" y1="1158.6" x2="345.8" y2="1158.6" stroke="#333" stroke-width="1.5" />
<line x1="374.1" y1="1158.6" x2="418.92" y2="1158.6" stroke="#333" stroke-width="1.5" />
<line x1="104.2" y1="1175.1" x2="345.1" y2="1175.1" stroke="#333" stroke-width="1.3" />
<line x1="182.7" y1="1007.4" x2="343.2" y2="1007.4" stroke="#111" stroke-width="1.1" />
<line x1="182.7" y1="1117.2" x2="343.2" y2="1117.2" stroke="#111" stroke-width="1.1" />
<line x1="115.6" y1="949.5" x2="115.6" y2="1175.1" stroke="#111" stroke-width="1.1" />
<polygon points="115.6,949.5 119.95,972.9 111.25,972.9" fill="#000"/>
<polygon points="115.6,1175.1 111.25,1151.7 119.95,1151.7" fill="#000"/>
<line x1="151.5" y1="966" x2="151.5" y2="1158.6" stroke="#111" stroke-width="1.1" />
<polygon points="151.5,966 155.85,989.4 147.15,989.4" fill="#000"/>
<polygon points="151.5,1158.6 147.15,1135.2 155.85,1135.2" fill="#000"/>
<line x1="194.3" y1="1007.4" x2="194.3" y2="1117.2" stroke="#111" stroke-width="1.1" />
<polygon points="194.3,1007.4 198.65,1030.8 189.95,1030.8" fill="#000"/>
<polygon points="194.3,1117.2 189.95,1093.8 198.65,1093.8" fill="#000"/>
<line x1="224.9" y1="1062.3" x2="224.9" y2="1244" stroke="#111" stroke-width="1.1" />
<line x1="494.7" y1="1062.3" x2="494.7" y2="1244" stroke="#111" stroke-width="1.1" />
<line x1="224.9" y1="1232.6" x2="494.7" y2="1232.6" stroke="#111" stroke-width="1.1" />
<polygon points="224.9,1232.6 248.3,1228.25 248.3,1236.95" fill="#000"/>
<polygon points="494.7,1232.6 471.3,1236.95 471.3,1228.25" fill="#000"/>
<text font-size="24.9" stroke="#000" stroke-width="0.45"><tspan x="322.23" y="1219.8" font-size="20.6" textLength="17.32" lengthAdjust="spacingAndGlyphs" stroke-width="0">Ø</tspan><tspan x="342.04" y="1221.9" textLength="39.04" lengthAdjust="spacingAndGlyphs">46,6</tspan></text>
<text transform="translate(105.4 1089.2) rotate(-90)" font-size="24.9" stroke="#000" stroke-width="0.45"><tspan x="-1.32" y="-0.2" font-size="20.6" textLength="16.12" lengthAdjust="spacingAndGlyphs" stroke-width="0">Ø</tspan><tspan x="15.61" y="0" textLength="40.12" lengthAdjust="spacingAndGlyphs">39,2</tspan></text>
<text transform="translate(146.8 1073.2) rotate(-90)" x="-0.75" y="0" font-size="24.9" textLength="38.53" lengthAdjust="spacingAndGlyphs" stroke="#000" stroke-width="0.45">33,4</text>
<text transform="translate(186.5 1076.1) rotate(-90)" x="-1.45" y="0" font-size="24.9" textLength="21.15" lengthAdjust="spacingAndGlyphs" stroke="#000" stroke-width="0.45">19</text>
<line x1="571.3" y1="947.8" x2="894.6" y2="947.8" stroke="#222" stroke-width="1.3" />
<line x1="571.3" y1="1177" x2="894.6" y2="1177" stroke="#222" stroke-width="1.3" />
<line x1="608.6" y1="961.5" x2="725.4" y2="961.5" stroke="#111" stroke-width="1.1" />
<line x1="608.6" y1="1163.3" x2="725.4" y2="1163.3" stroke="#111" stroke-width="1.1" />
<line x1="582.9" y1="947.8" x2="582.9" y2="1177" stroke="#111" stroke-width="1.1" />
<polygon points="582.9,947.8 587.25,971.2 578.55,971.2" fill="#000"/>
<polygon points="582.9,1177 578.55,1153.6 587.25,1153.6" fill="#000"/>
<line x1="620.2" y1="961.5" x2="620.2" y2="1163.3" stroke="#111" stroke-width="1.1" />
<polygon points="620.2,961.5 624.55,984.9 615.85,984.9" fill="#000"/>
<polygon points="620.2,1163.3 615.85,1139.9 624.55,1139.9" fill="#000"/>
<text transform="translate(577.6 1073.7) rotate(-90)" x="-0.75" y="0" font-size="24.9" textLength="38.42" lengthAdjust="spacingAndGlyphs" stroke="#000" stroke-width="0.45">39,6</text>
<text transform="translate(614.1 1076.1) rotate(-90)" x="-0.74" y="0" font-size="24.9" textLength="37.97" lengthAdjust="spacingAndGlyphs" stroke="#000" stroke-width="0.45">34,9</text>
<line x1="1017" y1="941.7" x2="1099.2" y2="941.7" stroke="#111" stroke-width="1.1" />
<line x1="1017" y1="1183.1" x2="1099.2" y2="1183.1" stroke="#111" stroke-width="1.1" />
<line x1="1029" y1="934.6" x2="1147.6" y2="934.6" stroke="#111" stroke-width="1.1" />
<line x1="1029" y1="1190.2" x2="1147.6" y2="1190.2" stroke="#111" stroke-width="1.1" />
<line x1="1087.6" y1="941.7" x2="1087.6" y2="1183.1" stroke="#111" stroke-width="1.1" />
<polygon points="1087.6,941.7 1091.95,965.1 1083.25,965.1" fill="#000"/>
<polygon points="1087.6,1183.1 1083.25,1159.7 1091.95,1159.7" fill="#000"/>
<line x1="1136.7" y1="934.6" x2="1136.7" y2="1190.2" stroke="#111" stroke-width="1.1" />
<polygon points="1136.7,934.6 1141.05,958 1132.35,958" fill="#000"/>
<polygon points="1136.7,1190.2 1132.35,1166.8 1141.05,1166.8" fill="#000"/>
<text transform="translate(1082.4 1086.8) rotate(-90)" font-size="24.9" stroke="#000" stroke-width="0.45"><tspan x="-1.32" y="0" font-size="20.6" textLength="16.23" lengthAdjust="spacingAndGlyphs" stroke-width="0">Ø</tspan><tspan x="16.03" y="0" textLength="40.07" lengthAdjust="spacingAndGlyphs">41,8</tspan></text>
<text transform="translate(1129.4 1093.6) rotate(-90)" font-size="24.9" stroke="#000" stroke-width="0.45"><tspan x="-1.31" y="0" font-size="20.6" textLength="16.01" lengthAdjust="spacingAndGlyphs" stroke-width="0">Ø</tspan><tspan x="16.54" y="0" textLength="38.65" lengthAdjust="spacingAndGlyphs">44,2</tspan></text>
<line x1="640.7" y1="1026.8" x2="640.7" y2="1273" stroke="#111" stroke-width="1.2" />
<line x1="912.4" y1="1183.1" x2="912.4" y2="1246.4" stroke="#111" stroke-width="1.1" />
<line x1="1051.3" y1="934.6" x2="1051.3" y2="1273" stroke="#4a4a4a" stroke-width="1.8" />
<line x1="912.4" y1="1235.3" x2="1051.3" y2="1235.3" stroke="#111" stroke-width="1.1" />
<polygon points="912.4,1235.3 935.8,1230.95 935.8,1239.65" fill="#000"/>
<polygon points="1051.3,1235.3 1027.9,1239.65 1027.9,1230.95" fill="#000"/>
<line x1="640.7" y1="1261.4" x2="1051.3" y2="1261.4" stroke="#111" stroke-width="1.1" />
<polygon points="640.7,1261.4 664.1,1257.05 664.1,1265.75" fill="#000"/>
<polygon points="1051.3,1261.4 1027.9,1265.75 1027.9,1257.05" fill="#000"/>
<text x="972.89" y="1229.6" font-size="24.9" textLength="22.4" lengthAdjust="spacingAndGlyphs" stroke="#000" stroke-width="0.45">24</text>
<text x="817.32" y="1256.7" font-size="24.9" textLength="21.21" lengthAdjust="spacingAndGlyphs" stroke="#000" stroke-width="0.45">71</text>
<path d="M640.7 1026.8 C641.58 1026.4 644.28 1025.08 646 1024.4 C647.72 1023.72 649.05 1023.1 651 1022.7 C652.95 1022.3 656.12 1022.35 657.7 1022 C659.28 1021.65 659.5 1021.3 660.5 1020.6 C661.5 1019.9 661.95 1018.68 663.7 1017.8 C665.45 1016.92 669.28 1016 671 1015.3 C672.72 1014.6 673.2 1014.35 674 1013.6 C674.8 1012.85 675.5 1011.27 675.8 1010.8" fill="none" stroke="#000" stroke-width="1.05" />
<path d="M676.2 1010.2 A60.5 60.5 0 0 1 725.4 962" fill="none" stroke="#000" stroke-width="1.05" />
<path d="M725.4 962 C727.62 961.87 734.93 961.2 738.7 961.2 C742.47 961.2 744.78 961.68 748 962 C751.22 962.32 754.33 962.83 758 963.1 C761.67 963.37 763.97 963.47 770 963.6 C776.03 963.73 786.13 964.18 794.2 963.9 C802.27 963.62 810.33 962.73 818.4 961.9 C826.47 961.07 834.53 960.12 842.6 958.9 C850.67 957.68 858.13 956.45 866.8 954.6 C875.47 952.75 889.97 948.93 894.6 947.8" fill="none" stroke="#000" stroke-width="1.05" />
<path d="M894.6 947.8 C895.33 947.87 897.6 948.12 899 948.2 C900.4 948.28 901.52 948.53 903 948.3 C904.48 948.07 906.65 947.43 907.9 946.8 C909.15 946.17 909.7 945.2 910.5 944.5 C911.3 943.8 911.95 943.05 912.7 942.6 C913.45 942.15 914.18 941.95 915 941.8 C915.82 941.65 917.17 941.72 917.6 941.7" fill="none" stroke="#000" stroke-width="1.05" />
<path d="M917.6 941.7 L938.6 941.7 Q942 941.9 945.5 944 Q948.5 945.2 951.5 944 Q955 941.9 958 941.7 L1017 941.7 L1029 934.6 L1051.3 934.6" fill="none" stroke="#000" stroke-width="1.05" />
<line x1="1014.5" y1="941.7" x2="1029.5" y2="941.7" stroke="#000" stroke-width="1.0" />
<path d="M640.7 1098 C641.58 1098.4 644.28 1099.72 646 1100.4 C647.72 1101.08 649.05 1101.7 651 1102.1 C652.95 1102.5 656.12 1102.45 657.7 1102.8 C659.28 1103.15 659.5 1103.5 660.5 1104.2 C661.5 1104.9 661.95 1106.12 663.7 1107 C665.45 1107.88 669.28 1108.8 671 1109.5 C672.72 1110.2 673.2 1110.45 674 1111.2 C674.8 1111.95 675.5 1113.53 675.8 1114" fill="none" stroke="#000" stroke-width="1.05" />
<path d="M676.2 1114.6 A60.5 60.5 0 0 0 725.4 1162.8" fill="none" stroke="#000" stroke-width="1.05" />
<path d="M725.4 1162.8 C727.62 1162.93 734.93 1163.6 738.7 1163.6 C742.47 1163.6 744.78 1163.12 748 1162.8 C751.22 1162.48 754.33 1161.97 758 1161.7 C761.67 1161.43 763.97 1161.33 770 1161.2 C776.03 1161.07 786.13 1160.62 794.2 1160.9 C802.27 1161.18 810.33 1162.07 818.4 1162.9 C826.47 1163.73 834.53 1164.68 842.6 1165.9 C850.67 1167.12 858.13 1168.35 866.8 1170.2 C875.47 1172.05 889.97 1175.87 894.6 1177" fill="none" stroke="#000" stroke-width="1.05" />
<path d="M894.6 1177 C895.33 1176.93 897.6 1176.68 899 1176.6 C900.4 1176.52 901.52 1176.27 903 1176.5 C904.48 1176.73 906.65 1177.37 907.9 1178 C909.15 1178.63 909.7 1179.6 910.5 1180.3 C911.3 1181 911.95 1181.75 912.7 1182.2 C913.45 1182.65 914.18 1182.85 915 1183 C915.82 1183.15 917.17 1183.08 917.6 1183.1" fill="none" stroke="#000" stroke-width="1.05" />
<path d="M917.6 1183.1 L938.6 1183.1 Q942 1182.9 945.5 1180.8 Q948.5 1179.6 951.5 1180.8 Q955 1182.9 958 1183.1 L1017 1183.1 L1029 1190.2 L1051.3 1190.2" fill="none" stroke="#000" stroke-width="1.05" />
<line x1="1014.5" y1="1183.1" x2="1029.5" y2="1183.1" stroke="#000" stroke-width="1.0" />
<line x1="642.9" y1="1026.2" x2="642.9" y2="1098.6" stroke="#000" stroke-width="0.9" />
<line x1="652.6" y1="1022.6" x2="652.6" y2="1102.2" stroke="#333" stroke-width="1.9" />
<line x1="663.5" y1="1017.8" x2="663.5" y2="1107" stroke="#222" stroke-width="1.9" />
<path d="M670.4 1015.6 L672.4 1062.4 L670.4 1109.2" fill="none" stroke="#000" stroke-width="1.0" />
<line x1="676.4" y1="1010" x2="676.4" y2="1114.8" stroke="#000" stroke-width="1.1" />
<line x1="672.4" y1="1062.4" x2="676.4" y2="1062.4" stroke="#000" stroke-width="1.0" />
<line x1="726" y1="962" x2="726" y2="1162.8" stroke="#000" stroke-width="1.5" />
<line x1="743.5" y1="961.6" x2="743.5" y2="1163.2" stroke="#333" stroke-width="1.1" />
<line x1="767.8" y1="963.6" x2="767.8" y2="1161.2" stroke="#111" stroke-width="1.1" />
<ellipse cx="760.1" cy="1062.4" rx="32.2" ry="64.5" fill="none" stroke="#000" stroke-width="1.2"/>
<ellipse cx="760.1" cy="1062.4" rx="30.9" ry="62.9" fill="none" stroke="#222" stroke-width="1.0"/>
<ellipse cx="760.1" cy="1062.4" rx="29.6" ry="61.3" fill="none" stroke="#000" stroke-width="1.2"/>
<line x1="913.2" y1="1032.6" x2="1051.3" y2="1032.6" stroke="#000" stroke-width="1.1" />
<line x1="913.2" y1="1034.5" x2="1051.3" y2="1034.5" stroke="#000" stroke-width="1.0" />
<line x1="908.4" y1="1036.3" x2="1051.3" y2="1036.3" stroke="#444" stroke-width="1.5" />
<line x1="913.2" y1="1092" x2="1051.3" y2="1092" stroke="#000" stroke-width="1.1" />
<line x1="913.2" y1="1090.3" x2="1051.3" y2="1090.3" stroke="#000" stroke-width="1.0" />
<line x1="908.4" y1="1088.5" x2="1051.3" y2="1088.5" stroke="#444" stroke-width="1.5" />
<path d="M913.2 1032.8 L880.5 1047.2 Q878.1 1048.3 878.1 1050.5 L878.1 1074.3 Q878.1 1076.5 880.5 1077.6 L913.2 1092" fill="none" stroke="#000" stroke-width="0.9" />
<path d="M913.2 1034.56 L881.85 1048.01 Q879.45 1049.11 879.45 1051.17 L879.45 1073.63 Q879.45 1075.69 881.85 1076.79 L913.2 1090.25" fill="none" stroke="#000" stroke-width="0.9" />
<path d="M913.2 1036.31 L883.2 1048.82 Q880.8 1049.92 880.8 1051.85 L880.8 1072.95 Q880.8 1074.88 883.2 1075.98 L913.2 1088.49" fill="none" stroke="#000" stroke-width="0.9" />
<line x1="908.4" y1="1036.4" x2="908.4" y2="1088.4" stroke="#000" stroke-width="1.3" />
<line x1="920.2" y1="1036.4" x2="920.2" y2="1088.4" stroke="#555" stroke-width="1.3" />
<line x1="908.4" y1="1062.4" x2="920.2" y2="1062.4" stroke="#000" stroke-width="1.1" />
<path d="M894.6 947.8 Q897.5 990 899.4 1039" fill="none" stroke="#000" stroke-width="1.0" />
<path d="M897.4 948.2 Q900.5 990 902.2 1037.5" fill="none" stroke="#000" stroke-width="1.0" />
<line x1="912.4" y1="942.6" x2="912.4" y2="1033" stroke="#000" stroke-width="1.2" />
<line x1="918.6" y1="941.7" x2="918.6" y2="1032.8" stroke="#000" stroke-width="1.2" />
<line x1="938.4" y1="941.7" x2="938.4" y2="1032.8" stroke="#000" stroke-width="1.0" />
<line x1="942.2" y1="942.2" x2="942.2" y2="1032.8" stroke="#444" stroke-width="1.0" />
<line x1="954.6" y1="942.2" x2="954.6" y2="1032.8" stroke="#000" stroke-width="1.0" />
<line x1="958.2" y1="941.7" x2="958.2" y2="1032.8" stroke="#444" stroke-width="1.0" />
<line x1="1014.5" y1="941.7" x2="1014.5" y2="1032.8" stroke="#000" stroke-width="1.0" />
<line x1="1017.6" y1="941.7" x2="1017.6" y2="1032.8" stroke="#444" stroke-width="1.0" />
<line x1="1026.1" y1="936.3" x2="1026.1" y2="1032.8" stroke="#000" stroke-width="1.0" />
<line x1="1029.5" y1="934.6" x2="1029.5" y2="1032.8" stroke="#444" stroke-width="1.0" />
<path d="M894.6 1177 Q897.5 1134.8 899.4 1085.8" fill="none" stroke="#000" stroke-width="1.0" />
<path d="M897.4 1176.6 Q900.5 1134.8 902.2 1087.3" fill="none" stroke="#000" stroke-width="1.0" />
<line x1="912.4" y1="1182.2" x2="912.4" y2="1091.8" stroke="#000" stroke-width="1.2" />
<line x1="918.6" y1="1183.1" x2="918.6" y2="1092" stroke="#000" stroke-width="1.2" />
<line x1="938.4" y1="1183.1" x2="938.4" y2="1092" stroke="#000" stroke-width="1.0" />
<line x1="942.2" y1="1182.6" x2="942.2" y2="1092" stroke="#444" stroke-width="1.0" />
<line x1="954.6" y1="1182.6" x2="954.6" y2="1092" stroke="#000" stroke-width="1.0" />
<line x1="958.2" y1="1183.1" x2="958.2" y2="1092" stroke="#444" stroke-width="1.0" />
<line x1="1014.5" y1="1183.1" x2="1014.5" y2="1092" stroke="#000" stroke-width="1.0" />
<line x1="1017.6" y1="1183.1" x2="1017.6" y2="1092" stroke="#444" stroke-width="1.0" />
<line x1="1026.1" y1="1188.5" x2="1026.1" y2="1092" stroke="#000" stroke-width="1.0" />
<line x1="1029.5" y1="1190.2" x2="1029.5" y2="1092" stroke="#444" stroke-width="1.0" />
</svg>
</body>
</html>
